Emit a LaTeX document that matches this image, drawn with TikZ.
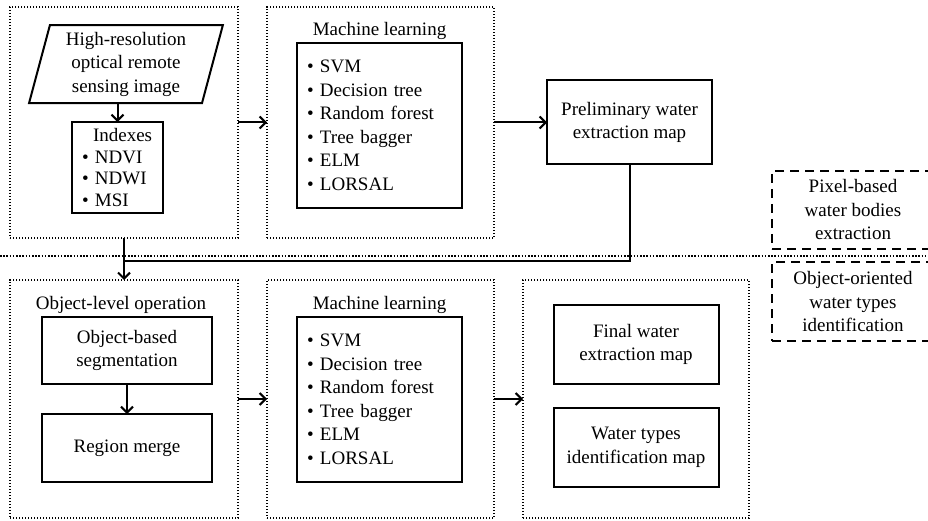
\documentclass[tikz,border=0pt]{standalone}
\usepackage{fontspec}
\setmainfont{Liberation Serif}
\usepackage{tikz}
\usetikzlibrary{arrows.meta,positioning,shapes.geometric}
\newcommand{\mainfs}{\fontsize{19pt}{23.5pt}\selectfont}

\begin{document}
\begin{tikzpicture}[x=1pt,y=1pt,
  frame/.style={draw,line width=1.4pt,dash pattern=on 1.4pt off 1.6pt,
    minimum width=228pt,minimum height=231pt,inner sep=0pt,outer sep=0pt},
  box/.style={draw,line width=2pt,align=center,font=\mainfs,inner sep=4pt,
    outer sep=0pt,minimum width=165pt},
  list/.style={box,align=left,text width=145pt,inner xsep=10pt,minimum height=165pt},
  side/.style={draw,line width=2pt,dash pattern=on 9pt off 6pt,align=center,
    font=\mainfs,minimum width=162pt,outer sep=0pt},
  ttl/.style={font=\mainfs,inner sep=1pt},
  arr/.style={-{Straight Barb[length=6pt,width=12pt]},line width=2pt},
  link/.style={line width=2pt},
  sep/.style={line width=1.6pt,dash pattern=on 1.6pt off 1.6pt}]
  \useasboundingbox (0,0) rectangle (928,-521);
  % pixel-based part
  \node[frame] (fTL) at (124,-122.5) {};
  \node[frame,minimum width=227pt,right=29pt of fTL] (fTM) {};
  \node[box,minimum height=84pt,right=53pt of fTM] (prelim) {Preliminary water\\extraction map};
  \node[draw,line width=2pt,trapezium,trapezium left angle=75.6,trapezium right angle=104.4,
    trapezium stretches,minimum width=194pt,minimum height=78pt,inner sep=0pt,outer sep=0pt,
    align=center,font=\mainfs,below=18pt of fTL.north,xshift=2pt] (img)
    {High-resolution\\optical remote\\sensing image};
  \node[box,minimum width=91pt,minimum height=91pt,align=left,text width=71pt,inner xsep=10pt,
    inner ysep=0pt,font=\fontsize{19pt}{21.5pt}\selectfont,below=19pt of img.south,xshift=-8.5pt] (idx)
    {\hspace*{11pt}Indexes\\\textbullet\ NDVI\\\textbullet\ NDWI\\\textbullet\ MSI};
  \node[list,below=36pt of fTM.north,xshift=-1pt] (mlA)
    {\textbullet\ SVM\\\textbullet\ Decision tree\\\textbullet\ Random forest\\
     \textbullet\ Tree bagger\\\textbullet\ ELM\\\textbullet\ LORSAL};
  \node[ttl,above=2pt of mlA] (mlAttl) {Machine learning};
  % object-oriented part
  \node[frame,minimum height=238pt,below=42pt of fTL] (fBL) {};
  \node[frame,minimum width=227pt,minimum height=238pt,right=29pt of fBL] (fBM) {};
  \node[frame,minimum width=226pt,minimum height=238pt,right=29pt of fBM] (fBR) {};
  \node[box,minimum width=170pt,minimum height=67pt,below=37pt of fBL.north,xshift=3pt] (seg)
    {Object-based\\segmentation};
  \node[box,minimum width=170pt,minimum height=68pt,below=30pt of seg] (merge) {Region merge};
  \node[ttl,above=2pt of seg,xshift=-6pt] (segttl) {Object-level operation};
  \node[list,below=37pt of fBM.north,xshift=-1pt] (mlB)
    {\textbullet\ SVM\\\textbullet\ Decision tree\\\textbullet\ Random forest\\
     \textbullet\ Tree bagger\\\textbullet\ ELM\\\textbullet\ LORSAL};
  \node[ttl,above=2pt of mlB] (mlBttl) {Machine learning};
  \node[box,minimum height=79pt,below=25pt of fBR.north] (final) {Final water\\extraction map};
  \node[box,minimum height=79pt,below=24pt of final] (wtypes) {Water types\\identification map};
  % legend on the right
  \node[side,minimum height=78pt] (pix) at (853,-210) {Pixel-based\\water bodies\\extraction};
  \node[side,minimum height=79pt,below=13pt of pix] (obj) {Object-oriented\\water types\\identification};
  \coordinate (sepL) at (0,-256);
  \coordinate (sepR) at (928,-256);
  \draw[sep] (sepL) -- (sepR);
  % connectors
  \coordinate[below=23pt of fTL.south] (jn);
  \draw[arr] (img.south -| idx.north) -- (idx.north);
  \draw[arr] (fTL) -- (fTM);
  \draw[arr] (fTM) -- (prelim);
  \draw[link] (prelim.south) |- (jn);
  \draw[arr] (fTL.south) -- (fBL.north);
  \draw[arr] (seg) -- (merge);
  \draw[arr] (fBL) -- (fBM);
  \draw[arr] (fBM) -- (fBR);
\end{tikzpicture}
\end{document}
